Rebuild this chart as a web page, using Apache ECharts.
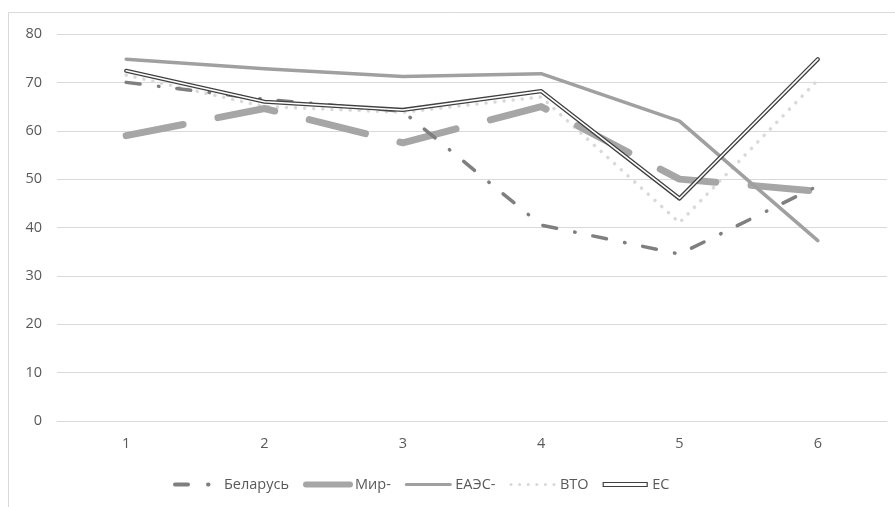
<!DOCTYPE html>
<html><head><meta charset="utf-8">
<script src="https://cdn.jsdelivr.net/npm/echarts@6/dist/echarts.min.js"></script>
<style>html,body{margin:0;padding:0;background:#fff}#c{width:895px;height:507px}</style>
</head><body><div id="c"></div>
<script>
var categories = ['1','2','3','4','5','6'];
var belarus = [70, 66.5, 64, 40.5, 34.5, 48.6];
var mir = [59, 64.6, 57.5, 65, 50, 47.5];
var eaes = [74.8, 72.8, 71.2, 71.8, 62, 37.3];
var vto = [71.5, 65, 63.8, 67, 41, 70.5];
var es = [72.4, 66, 64.3, 68.2, 46, 74.8];
var yTicks = [0, 80, 10];

var chart = echarts.init(document.getElementById('c'));
var font = '"Open Sans", sans-serif';
function ln(name, data, color, width, type, z) {
  return {name: name, type: 'line', data: data, symbol: 'none', z: z, silent: true,
    lineStyle: {color: color, width: width, type: type, cap: 'round', join: 'round'},
    itemStyle: {color: color}};
}
var hide = {opacity: 0};
chart.setOption({
  animation: false,
  graphic: [{type: 'rect', shape: {x: 8.5, y: 12.5, width: 895, height: 500},
    style: {fill: 'none', stroke: '#d9d9d9', lineWidth: 1}, silent: true}],
  grid: {left: 57, right: 8, top: 34, bottom: 86},
  xAxis: {type: 'category', data: categories, boundaryGap: true,
    axisLine: {show: true, lineStyle: {color: '#d9d9d9'}}, axisTick: {show: false},
    axisLabel: {color: '#595959', fontSize: 14.5, fontFamily: font, margin: 15}},
  yAxis: {type: 'value', min: yTicks[0], max: yTicks[1], interval: yTicks[2],
    axisLine: {show: false}, axisTick: {show: false},
    splitLine: {lineStyle: {color: '#d9d9d9', width: 1}},
    axisLabel: {color: '#595959', fontSize: 14.5, fontFamily: font, margin: 15}},
  legend: {bottom: 10, left: 168, itemWidth: 44, itemHeight: 8, itemGap: 14,
    textStyle: {color: '#595959', fontSize: 14.5, fontFamily: font},
    data: [
      {name: 'Беларусь', itemStyle: hide, lineStyle: {color: '#7f7f7f', width: 4, type: [13, 20, 0.5, 40], cap: 'round'}},
      {name: 'Мир-', itemStyle: hide, lineStyle: {color: '#a6a6a6', width: 6, type: 'solid', cap: 'round'}},
      {name: 'ЕАЭС-', itemStyle: hide, lineStyle: {color: '#a0a0a0', width: 3, type: 'solid', cap: 'round'}},
      {name: 'ВТО', itemStyle: hide, lineStyle: {color: '#d9d9d9', width: 3, type: [0.1, 8.5], cap: 'round'}},
      {name: 'ЕС', icon: 'path://M0,0 L44,0 L44,4 L0,4 Z', itemStyle: {color: '#fff', borderColor: '#404040', borderWidth: 1.2}}
    ]},
  series: [
    ln('ВТО', vto, '#d9d9d9', 3.5, [0.1, 9], 1),
    ln('Мир-', mir, '#a6a6a6', 7, [58, 35.5], 2),
    ln('ЕАЭС-', eaes, '#a0a0a0', 3.5, 'solid', 3),
    ln('Беларусь', belarus, '#7f7f7f', 3.5, [14, 18.5, 0.5, 18], 4),
    ln('ЕС', es, '#404040', 4.2, 'solid', 5),
    ln('ЕС_in', es, '#ffffff', 1.6, 'solid', 6)
  ]
});
</script></body></html>
